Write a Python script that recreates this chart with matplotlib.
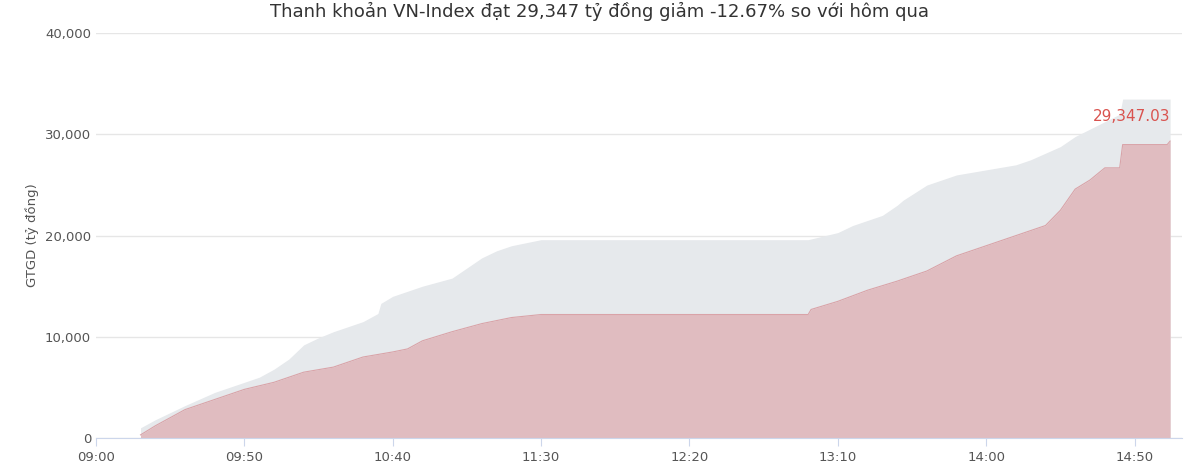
import matplotlib.pyplot as plt
import numpy as np

# minutes from 09:00
prev_t = [15, 20, 30, 40, 50, 55, 60, 65, 70, 75, 80, 90, 95, 96, 100, 105, 110, 120, 125, 130, 135, 140, 150, 190, 240, 250, 255, 265, 270, 272, 280, 290, 300, 310, 315, 325, 330, 345, 346, 362]
prev_v = [1000, 1800, 3200, 4500, 5500, 6000, 6800, 7800, 9200, 9900, 10500, 11500, 12300, 13300, 14000, 14500, 15000, 15800, 16800, 17800, 18500, 19000, 19600, 19600, 19600, 20300, 21000, 22000, 23000, 23500, 25000, 26000, 26500, 27000, 27500, 28800, 29800, 32000, 33500, 33500]
today_t = [15, 20, 30, 40, 50, 60, 70, 80, 90, 100, 105, 110, 120, 130, 140, 150, 190, 240, 241, 250, 260, 270, 280, 290, 300, 310, 320, 325, 330, 335, 340, 345, 346, 361, 362]
today_v = [300, 1200, 2800, 3800, 4800, 5500, 6500, 7000, 8000, 8500, 8800, 9600, 10500, 11300, 11900, 12200, 12200, 12200, 12700, 13500, 14600, 15500, 16500, 18000, 19000, 20000, 21000, 22500, 24600, 25500, 26700, 26700, 29000, 29000, 29347]
xticks = [0, 50, 100, 150, 200, 250, 300, 350]
xlabels = ['09:00', '09:50', '10:40', '11:30', '12:20', '13:10', '14:00', '14:50']

fig, ax = plt.subplots(figsize=(12, 4.76), dpi=100)
fig.subplots_adjust(left=0.08, right=0.985, top=0.93, bottom=0.08)
ax.fill_between(prev_t, prev_v, color='#e6e9ec', step=None, lw=0)
ax.fill_between(today_t, today_v, color='#e0bcc0', lw=0)
ax.plot(today_t, today_v, color='#d9a3a8', lw=0.8)
ax.set_xlim(0, 366)
ax.set_ylim(0, 40000)
ax.set_yticks(range(0, 40001, 10000))
ax.set_yticklabels(['0', '10,000', '20,000', '30,000', '40,000'], color='#555555', fontsize=9.5)
ax.set_xticks(xticks)
ax.set_xticklabels(xlabels, color='#555555', fontsize=9.5)
ax.grid(axis='y', color='#e6e6e6', lw=1)
ax.set_axisbelow(True)
for s in ['top', 'right', 'left']:
    ax.spines[s].set_visible(False)
ax.spines['bottom'].set_color('#ccd6eb')
ax.tick_params(axis='y', length=0)
ax.tick_params(axis='x', color='#ccd6eb', length=6)
ax.set_ylabel('GTGD (tỷ đồng)', color='#555555', fontsize=9.5)
ax.text(362, 31000, '29,347.03', color='#d9534f', fontsize=11, ha='right', va='bottom')
fig.suptitle('Thanh khoản VN-Index đạt 29,347 tỷ đồng giảm -12.67% so với hôm qua', fontsize=13, color='#333333', y=0.995)
fig.savefig('out.png')
